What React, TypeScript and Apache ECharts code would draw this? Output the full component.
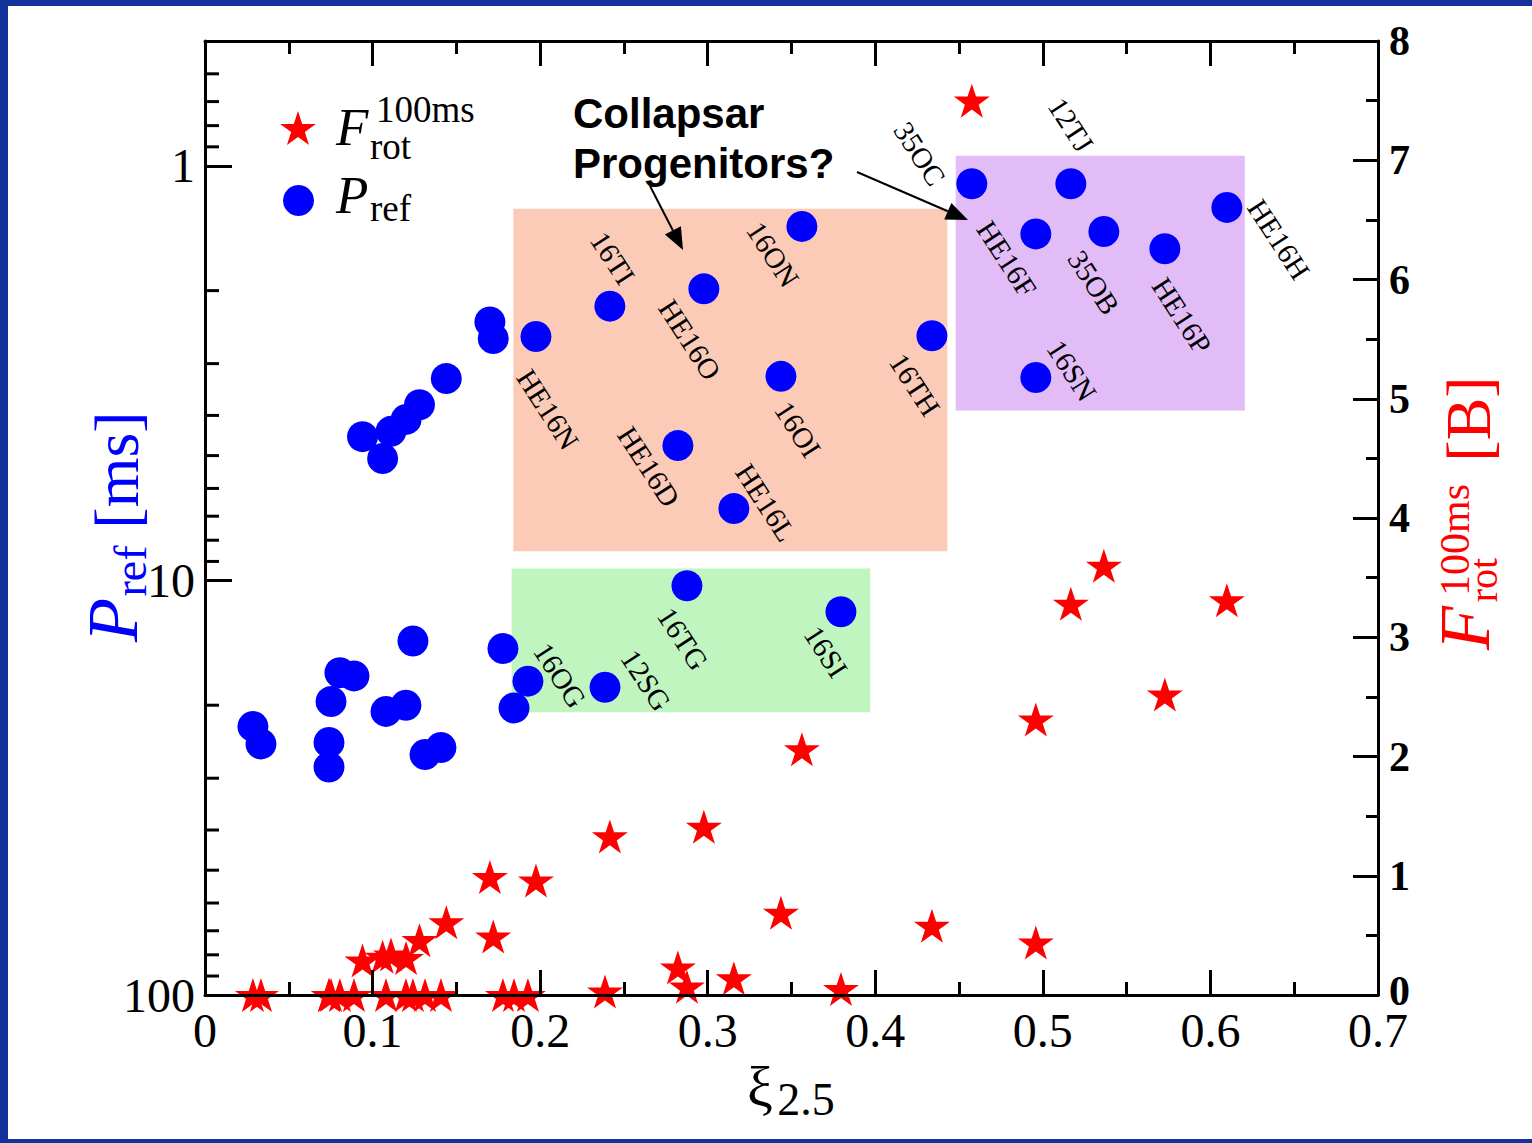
import React, { useEffect, useRef } from 'react';
import * as echarts from 'echarts';

// ---- data ----
const xiValues = [
  0.094, 0.106, 0.111, 0.12, 0.128, 0.144, 0.17, 0.172, 0.1975,
  0.2416, 0.2977, 0.3562, 0.4338, 0.3437, 0.2822, 0.3156, 0.4576, 0.5167, 0.4958, 0.5364, 0.5728, 0.6098, 0.4958,
  0.2876, 0.3795, 0.2387, 0.1927,
  0.1778, 0.1844, 0.1241, 0.0805, 0.0889, 0.0752, 0.108, 0.1199, 0.0286, 0.0334, 0.074, 0.074, 0.1313, 0.1408,
];
const periodMs = [
  4.5, 5.08, 4.37, 4.09, 3.77, 3.26, 2.38, 2.61, 2.58,
  2.18, 1.98, 1.4, 2.57, 3.22, 4.73, 6.71, 1.105, 1.105, 1.46, 1.44, 1.585, 1.26, 3.24,
  10.3, 11.9, 18.1, 17.5,
  14.6, 20.3, 14.0, 16.7, 17.0, 19.6, 20.7, 20.0, 22.5, 24.8, 24.6, 28.2, 26.3, 25.3,
];
const rotEnergyB = [
  0.29, 0.32, 0.34, 0.31, 0.46, 0.61, 0.99, 0.49, 0.96,
  1.33, 1.41, 2.06, 0.58, 0.69, 0.23, 0.14, 7.5, 3.28, 2.31, 3.6, 2.52, 3.31, 0.44,
  0.07, 0.05, 0.03, 0,
  0, 0, 0, 0, 0, 0, 0, 0, 0, 0, 0, 0, 0, 0,
];
const modelNames = [
  '', '', '', '', '', '', '', '', 'HE16N',
  '16TI', 'HE16O', '16ON', '16TH', '16OI', 'HE16D', 'HE16L', '35OC', '12TJ', 'HE16F', '35OB', 'HE16P', 'HE16H', '16SN',
  '16TG', '16SI', '12SG', '16OG',
  '', '', '', '', '', '', '', '', '', '', '', '', '', '',
];
const xTicks = { min: 0, max: 0.7, step: 0.1 };
const fTicks = { min: 0, max: 8, step: 1 };
const periodRange = { min: 0.5, max: 100 };
const periodLabels = [1, 10, 100];
const logMinorTickValues = [0.6, 0.7, 0.8, 0.9, 2, 3, 4, 5, 6, 7, 8, 9, 20, 30, 40, 50, 60, 70, 80, 90];

// shaded regions in data coordinates: [xi0, P0, xi1, P1]
const regionOrange = [0.184, 1.27, 0.443, 8.5];
const regionGreen = [0.183, 9.36, 0.397, 20.8];
const regionPurple = [0.448, 0.946, 0.6205, 3.89];

// ---- style ----
const labelRotateDeg = -57;
const labelScreenOffsets: Record<string, [number, number]> = {
  HE16N: [12, 73], '16TI': [3, -48], HE16O: [-14, 51], '16ON': [-29, 28], '16TH': [-17, 49],
  '16OI': [17, 53], HE16D: [-29, 21], HE16L: [32, -6], '35OC': [-52, -30], '12TJ': [0, -59],
  HE16F: [-29, 25], '35OB': [-10, 51], HE16P: [17, 67], HE16H: [52, 32], '16SN': [36, -7],
  '16TG': [-4, 53], '16SI': [-15, 40], '12SG': [41, -7], '16OG': [32, -6],
};
const STAR = 'path://M50,0 L61.2,34.5 L97.6,34.5 L68.2,55.9 L79.4,90.5 L50,69.1 L20.6,90.5 L31.8,55.9 L2.4,34.5 L38.8,34.5 Z';
const SERIF = 'Liberation Serif';
const SANS = 'Liberation Sans';

// label dx/dy are applied in the rotated label frame: convert a screen offset into that frame
function toLabelOffset(sx: number, sy: number, deg: number): [number, number] {
  const t = (deg * Math.PI) / 180;
  const c = Math.cos(t);
  const s = Math.sin(t);
  return [c * sx - s * sy, s * sx + c * sy];
}

function arrow(x1: number, y1: number, x2: number, y2: number) {
  const dx = x2 - x1, dy = y2 - y1;
  const len = Math.sqrt(dx * dx + dy * dy);
  const ux = dx / len, uy = dy / len;
  const hl = 22, hw = 9;
  const bx = x2 - ux * hl, by = y2 - uy * hl;
  return [
    { type: 'line', z: 100, shape: { x1, y1, x2: bx, y2: by }, style: { stroke: '#000', lineWidth: 2 } },
    {
      type: 'polygon', z: 100,
      shape: { points: [[x2, y2], [bx - uy * hw, by + ux * hw], [bx + uy * hw, by - ux * hw]] },
      style: { fill: '#000' },
    },
  ];
}

function txt(text: string, x: number, y: number, size: number, opts: any = {}) {
  return {
    type: 'text', z: 100, x, y, rotation: opts.rotation || 0,
    style: {
      text, fill: opts.color || '#000', fontFamily: opts.family || SERIF, fontSize: size,
      fontStyle: opts.italic ? 'italic' : 'normal', fontWeight: opts.bold ? 'bold' : 'normal',
      align: opts.align || 'center', verticalAlign: 'middle',
    },
  };
}

function region(r: number[], color: string) {
  return [{ coord: [r[0], r[1]], itemStyle: { color } }, { coord: [r[2], r[3]] }];
}

const axisLineStyle = { show: true, onZero: false, lineStyle: { color: '#000', width: 3 } };

function buildOption() {
  const dotData = xiValues.map((x, i) => {
    const name = modelNames[i];
    const item: any = { value: [x, periodMs[i]] };
    if (name) {
      item.label = {
        show: true, formatter: name, position: 'inside', rotate: labelRotateDeg,
        color: '#000', fontFamily: SERIF, fontSize: 29,
      };
    }
    return item;
  });
  const starData = xiValues.map((x, i) => [x, rotEnergyB[i]]);

  return {
    animation: false,
    backgroundColor: '#fff',
    grid: { left: 205, right: 154, top: 41, bottom: 148 },
    legend: [
      {
        data: [{ name: 'F', icon: STAR }], left: 280, top: 111, padding: 0,
        itemWidth: 36, itemHeight: 34, formatter: () => '', selectedMode: false,
        textStyle: { fontSize: 1 },
      },
      {
        data: [{ name: 'P', icon: 'circle' }], left: 283, top: 185, padding: 0,
        itemWidth: 31, itemHeight: 31, formatter: () => '', selectedMode: false,
        textStyle: { fontSize: 1 },
      },
    ],
    xAxis: [
      {
        type: 'value', min: xTicks.min, max: xTicks.max, interval: xTicks.step, position: 'bottom', z: 10,
        axisLine: axisLineStyle,
        axisTick: { show: true, inside: true, length: 25, lineStyle: { color: '#000', width: 3 } },
        minorTick: { show: true, splitNumber: 2, length: 13, lineStyle: { color: '#000', width: 3 } },
        splitLine: { show: false },
        axisLabel: {
          margin: 18, color: '#000', fontFamily: SERIF, fontSize: 48, lineHeight: 34,
          formatter: (v: number) => (Math.abs(v) < 1e-9 ? '0' : v.toFixed(1)),
        },
      },
      {
        type: 'value', min: xTicks.min, max: xTicks.max, interval: xTicks.step, position: 'top', z: 10,
        axisLine: axisLineStyle,
        axisTick: { show: true, inside: true, length: 25, lineStyle: { color: '#000', width: 3 } },
        minorTick: { show: true, splitNumber: 2, length: 13, lineStyle: { color: '#000', width: 3 } },
        splitLine: { show: false },
        axisLabel: { show: false },
      },
    ],
    yAxis: [
      {
        type: 'log', logBase: 10, min: periodRange.min, max: periodRange.max, inverse: true, position: 'left', z: 10,
        axisLine: axisLineStyle,
        axisTick: { show: true, inside: true, length: 27, lineStyle: { color: '#000', width: 3 } },
        splitLine: { show: false },
        axisLabel: {
          margin: 10, color: '#000', fontFamily: SERIF, fontSize: 48, showMinLabel: true, showMaxLabel: true,
          formatter: (v: number) => {
            const hit = periodLabels.find((p) => Math.abs(p - v) / p < 1e-6);
            return hit ? String(hit) : '';
          },
        },
      },
      {
        type: 'value', min: fTicks.min, max: fTicks.max, interval: fTicks.step, position: 'right', z: 10,
        axisLine: axisLineStyle,
        axisTick: { show: true, inside: true, length: 25, lineStyle: { color: '#000', width: 3 } },
        minorTick: { show: true, splitNumber: 2, length: 12, lineStyle: { color: '#000', width: 3 } },
        splitLine: { show: false },
        axisLabel: {
          margin: 11, color: '#000', fontFamily: SERIF, fontSize: 42, fontWeight: 'bold', lineHeight: 30,
          formatter: (v: number) => (Math.abs(v) < 1e-9 ? '{z|0}' : String(v)),
          rich: {
            z: {
              fontFamily: SERIF, fontSize: 42, fontWeight: 'bold', color: '#000', lineHeight: 30,
              padding: [0, 0, 8, 0],
            },
          },
        },
      },
    ],
    series: [
      {
        name: 'F', type: 'scatter', xAxisIndex: 0, yAxisIndex: 1, symbol: STAR, symbolSize: [36, 34],
        itemStyle: { color: '#ff0000', opacity: 1 }, data: starData, clip: false, z: 3,
      },
      {
        name: 'P', type: 'scatter', xAxisIndex: 0, yAxisIndex: 0, symbol: 'circle', symbolSize: 31,
        itemStyle: { color: '#0000ff', opacity: 1 }, data: dotData, clip: false, z: 4,
        labelLayout: (params: any) => {
          const name = modelNames[params.dataIndex];
          const o = (name && labelScreenOffsets[name]) || [0, 0];
          const d = toLabelOffset(o[0], o[1], labelRotateDeg);
          return { dx: d[0], dy: d[1], hideOverlap: false };
        },
        markArea: {
          silent: true, label: { show: false },
          data: [
            region(regionOrange, 'rgb(252,203,184)'),
            region(regionGreen, 'rgb(192,245,192)'),
            region(regionPurple, 'rgb(226,188,246)'),
          ],
        },
      },
      {
        type: 'custom', xAxisIndex: 0, yAxisIndex: 0, silent: true, z: 10, clip: false,
        data: logMinorTickValues.map((v) => [0, v]),
        renderItem: (params: any, api: any) => {
          const p = api.coord([api.value(0), api.value(1)]);
          return {
            type: 'line',
            shape: { x1: p[0], y1: p[1], x2: p[0] + 14, y2: p[1] },
            style: { stroke: '#000', lineWidth: 3 },
          };
        },
      },
    ],
    graphic: [
      // legend texts
      txt('F', 336, 127, 53, { italic: true, align: 'left' }),
      txt('100ms', 376, 109, 37, { align: 'left' }),
      txt('rot', 370, 146, 37, { align: 'left' }),
      txt('P', 336, 195, 53, { italic: true, align: 'left' }),
      txt('ref', 370, 208, 37, { align: 'left' }),
      // annotation
      txt('Collapsar', 573, 113, 42, { family: SANS, bold: true, align: 'left' }),
      txt('Progenitors?', 573, 163, 42, { family: SANS, bold: true, align: 'left' }),
      ...arrow(650, 186, 683, 250),
      ...arrow(857, 172, 968, 220),
      // x title
      txt('ξ', 760, 1086, 58),
      txt('2.5', 806, 1099, 46),
      // left title
      txt('P', 113, 620, 72, { italic: true, color: '#0000ff', rotation: Math.PI / 2 }),
      txt('ref', 130, 571, 46, { color: '#0000ff', rotation: Math.PI / 2 }),
      txt('[ms]', 116, 470, 64, { color: '#0000ff', rotation: Math.PI / 2 }),
      // right title
      txt('F', 1465, 628, 72, { italic: true, color: '#ff0000', rotation: Math.PI / 2 }),
      txt('100ms', 1455, 540, 42, { color: '#ff0000', rotation: Math.PI / 2 }),
      txt('rot', 1483, 580, 40, { color: '#ff0000', rotation: Math.PI / 2 }),
      txt('[B]', 1468, 419, 64, { color: '#ff0000', rotation: Math.PI / 2 }),
    ],
  };
}

export default function App() {
  const ref = useRef<HTMLDivElement>(null);
  useEffect(() => {
    if (!ref.current) return;
    const chart = echarts.init(ref.current, null, { renderer: 'svg' });
    chart.setOption(buildOption() as any);
    return () => chart.dispose();
  }, []);
  return (
    <div style={{ position: 'fixed', left: 0, top: 0, width: 1532, height: 1143, background: '#fff' }}>
      <div ref={ref} style={{ position: 'absolute', left: 0, top: 0, width: 1532, height: 1143 }} />
      <div
        style={{
          position: 'absolute', left: 0, top: 0, width: 1532, height: 1143, boxSizing: 'border-box',
          borderStyle: 'solid', borderColor: '#12319b', borderWidth: '6px 0 4px 8px', pointerEvents: 'none',
        }}
      />
    </div>
  );
}
